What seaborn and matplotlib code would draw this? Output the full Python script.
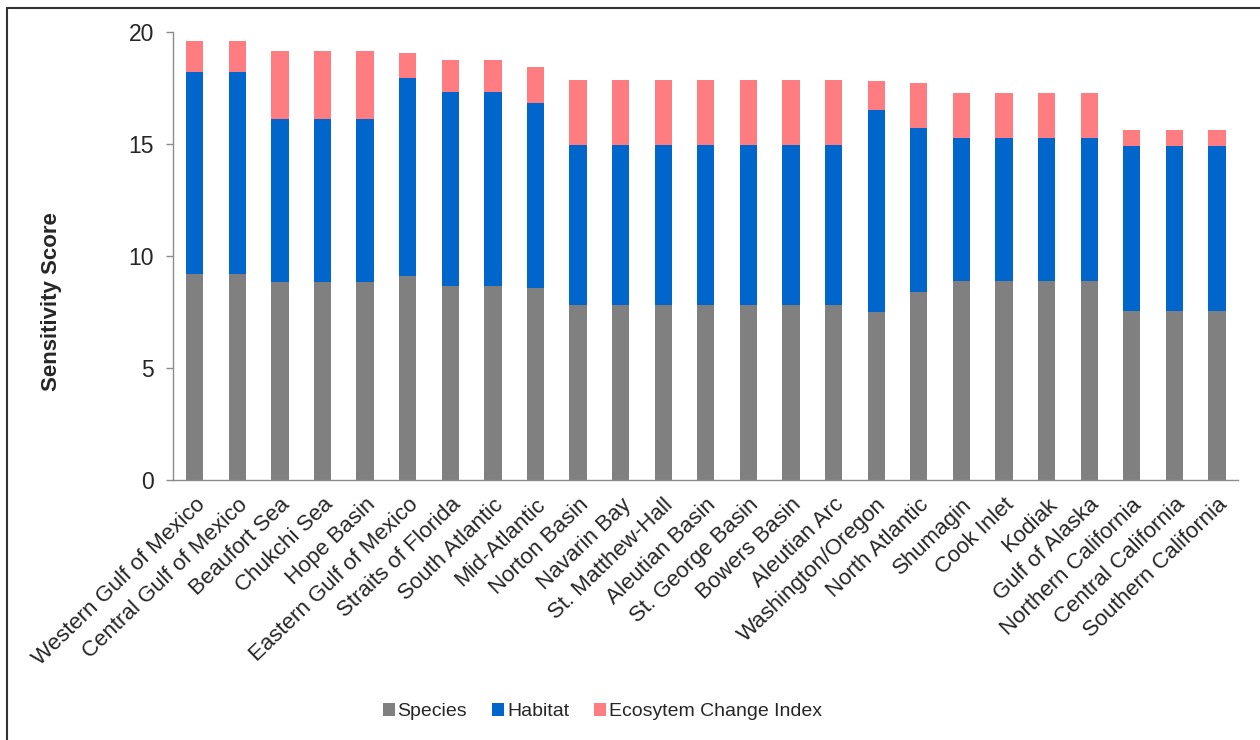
import matplotlib
matplotlib.use("Agg")
import matplotlib.pyplot as plt
from matplotlib.patches import Patch
from matplotlib.lines import Line2D
import numpy as np
import pandas as pd
import seaborn as sns

# Planning areas, ordered by total sensitivity score
areas = [
    "Western Gulf of Mexico", "Central Gulf of Mexico", "Beaufort Sea", "Chukchi Sea",
    "Hope Basin", "Eastern Gulf of Mexico", "Straits of Florida", "South Atlantic",
    "Mid-Atlantic", "Norton Basin", "Navarin Bay", "St. Matthew-Hall", "Aleutian Basin",
    "St. George Basin", "Bowers Basin", "Aleutian Arc", "Washington/Oregon",
    "North Atlantic", "Shumagin", "Cook Inlet", "Kodiak", "Gulf of Alaska",
    "Northern California", "Central California", "Southern California",
]

species = [9.20, 9.20, 8.85, 8.85, 8.85, 9.13, 8.66, 8.66, 8.57,
           7.84, 7.84, 7.84, 7.84, 7.84, 7.84, 7.84, 7.50, 8.42,
           8.90, 8.90, 8.90, 8.90, 7.56, 7.56, 7.56]
habitat = [9.01, 9.01, 7.28, 7.28, 7.28, 8.83, 8.67, 8.67, 8.27,
           7.13, 7.13, 7.13, 7.13, 7.13, 7.13, 7.13, 9.02, 7.32,
           6.36, 6.36, 6.36, 6.36, 7.36, 7.36, 7.36]
eci = [1.39, 1.39, 3.04, 3.04, 3.04, 1.10, 1.45, 1.45, 1.60,
       2.89, 2.89, 2.89, 2.89, 2.89, 2.89, 2.89, 1.29, 1.98,
       2.03, 2.03, 2.03, 2.03, 0.72, 0.72, 0.72]

series_names = ["Species", "Habitat", "Ecosytem Change Index"]
colors = ["#808080", "#0066CC", "#FF7C80"]

yticks = [0, 5, 10, 15, 20]

sns.set_style("white")
plt.rcParams["font.family"] = ["Liberation Sans", "DejaVu Sans"]

df = pd.DataFrame({"area": areas, "Species": species,
                   "Habitat": habitat, "ECI": eci})
df["top_species"] = df["Species"]
df["top_habitat"] = df["Species"] + df["Habitat"]
df["top_total"] = df["top_habitat"] + df["ECI"]

W, H = 1260, 740
fig = plt.figure(figsize=(W / 100, H / 100), dpi=100)
ax = fig.add_axes([173.4 / W, 1 - 480.3 / H, (1238.3 - 173.4) / W, (480.3 - 32.3) / H])

bar_w = 0.406
# stacked bars drawn back to front from the cumulative heights
for col, c in [("top_total", colors[2]), ("top_habitat", colors[1]), ("top_species", colors[0])]:
    sns.barplot(data=df, x="area", y=col, color=c, width=bar_w, ax=ax,
                linewidth=0, saturation=1, order=areas)

ax.set_ylim(0, 20)
ax.set_xlim(-0.5, len(areas) - 0.5)
ax.set_yticks(yticks)
ax.set_yticklabels([str(t) for t in yticks], fontsize=16.5)
ax.set_xlabel("")
ax.set_ylabel("")
ax.set_xticks(range(len(areas)))
ax.set_xticklabels(areas, rotation=44, ha="right", rotation_mode="anchor", fontsize=16)
ax.tick_params(axis="x", length=0, pad=10)
ax.tick_params(axis="y", length=5, width=1, color="#8c8c8c", pad=9, left=True, direction="out")

for s in ["top", "right"]:
    ax.spines[s].set_visible(False)
for s in ["left", "bottom"]:
    ax.spines[s].set_color("#8c8c8c")
    ax.spines[s].set_linewidth(1)

fig.text(51.7 / W, 1 - 301.7 / H, "Sensitivity Score", rotation=90, fontsize=16,
         fontweight="bold", ha="center", va="center")

handles = [Patch(facecolor=c, edgecolor="none") for c in colors]
fig.legend(handles, series_names, loc="center", bbox_to_anchor=(602.5 / W, 1 - 711.7 / H),
           ncol=3, frameon=False, fontsize=14, handlelength=0.6, handleheight=0.6,
           handletextpad=0.15, columnspacing=1.3)

# outer frame of the figure
fig.add_artist(Line2D([7 / W, 7 / W], [0, 1 - 8 / H], transform=fig.transFigure,
                      color="#333333", linewidth=1.5))
fig.add_artist(Line2D([7 / W, 1], [1 - 8 / H, 1 - 8 / H], transform=fig.transFigure,
                      color="#333333", linewidth=1.5))

fig.savefig("out.png", dpi=100, facecolor="white")
